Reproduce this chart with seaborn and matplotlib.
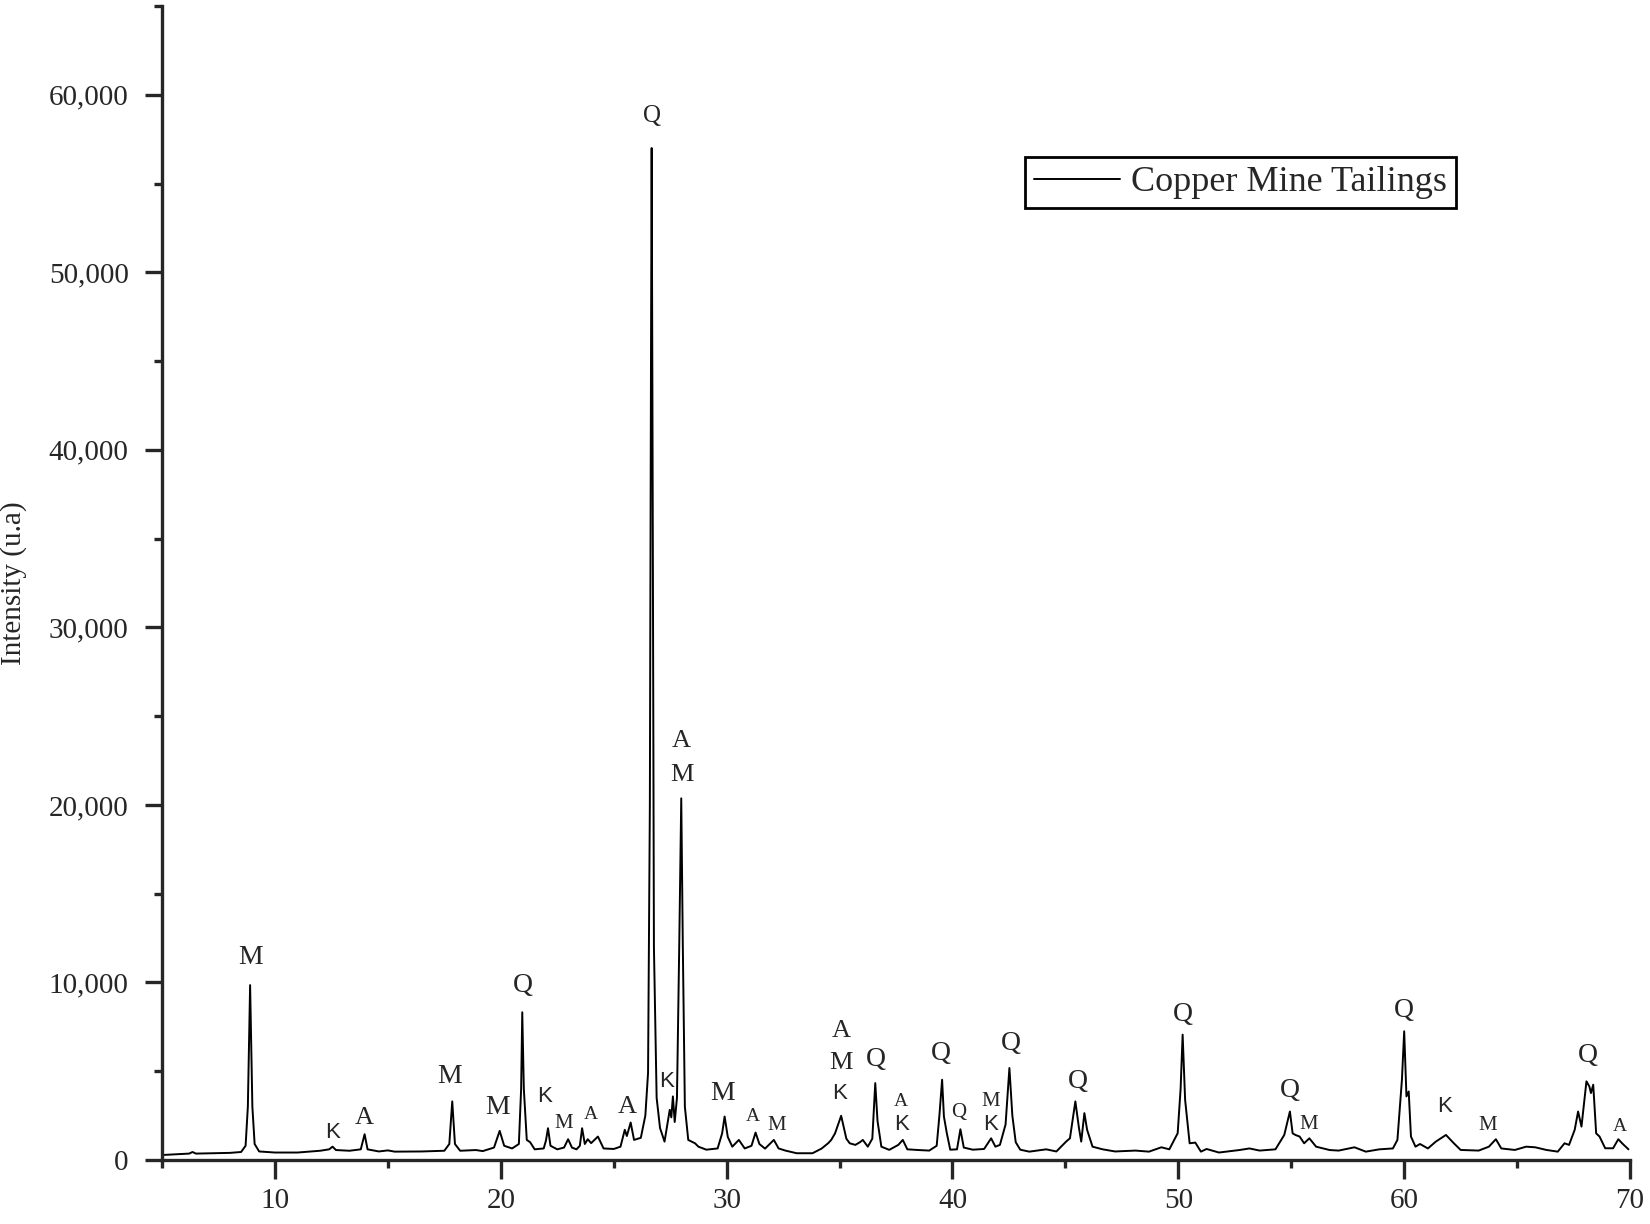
import matplotlib
matplotlib.use("Agg")
import matplotlib.pyplot as plt
from matplotlib.ticker import MultipleLocator, FuncFormatter
import seaborn as sns
import pandas as pd

# XRD pattern (2-theta in degrees, intensity in u.a)
two_theta = [
    5.0, 5.8, 6.2, 6.35, 6.5, 7.2, 8.0, 8.5, 8.7, 8.8, 8.86, 8.9, 8.94, 9.0, 9.1, 9.3,
    10.0, 11.0, 12.0, 12.4, 12.55, 12.7, 13.3, 13.8, 13.97, 14.1, 14.6, 15.0, 15.3,
    16.5, 17.5, 17.72, 17.85, 17.97, 18.2, 18.9, 19.2, 19.7, 19.95, 20.15, 20.5, 20.8,
    20.9, 20.95, 21.02, 21.15, 21.3, 21.5, 21.9, 22.0, 22.09, 22.2, 22.5, 22.8, 22.98,
    23.15, 23.35, 23.5, 23.6, 23.72, 23.85, 24.0, 24.3, 24.55, 25.0, 25.3, 25.49, 25.58,
    25.75, 25.9, 26.2, 26.4, 26.52, 26.6, 26.65, 26.68, 26.72, 26.78, 26.9, 27.05,
    27.25, 27.4, 27.48, 27.55, 27.62, 27.7, 27.8, 27.9, 27.99, 28.06, 28.15, 28.3,
    28.6, 28.75, 29.1, 29.6, 29.8, 29.91, 30.05, 30.25, 30.54, 30.8, 31.1, 31.28,
    31.45, 31.7, 32.09, 32.3, 32.6, 33.1, 33.8, 34.2, 34.5, 34.63, 34.8, 35.07, 35.3,
    35.45, 35.7, 35.9, 36.03, 36.25, 36.45, 36.58, 36.68, 36.85, 37.2, 37.6, 37.8,
    38.0, 38.5, 38.97, 39.3, 39.42, 39.54, 39.62, 39.75, 39.9, 40.2, 40.35, 40.5,
    40.9, 41.4, 41.71, 41.9, 42.1, 42.35, 42.52, 42.65, 42.8, 43.0, 43.4, 44.15, 44.6,
    45.03, 45.2, 45.44, 45.6, 45.7, 45.84, 45.96, 46.2, 46.65, 47.2, 48.1, 48.7,
    49.25, 49.6, 49.97, 50.1, 50.19, 50.3, 50.5, 50.75, 51.0, 51.25, 51.8, 52.7,
    53.15, 53.6, 54.3, 54.69, 54.94, 55.06, 55.2, 55.37, 55.57, 55.8, 56.1, 56.7,
    57.1, 57.8, 58.3, 58.9, 59.5, 59.7, 59.9, 60.0, 60.1, 60.2, 60.3, 60.5, 60.7,
    61.05, 61.4, 61.85, 62.2, 62.5, 63.3, 63.75, 64.06, 64.3, 64.9, 65.4, 65.8, 66.3,
    66.8, 67.1, 67.3, 67.55, 67.7, 67.85, 68.07, 68.2, 68.27, 68.37, 68.5, 68.65,
    68.9, 69.25, 69.48, 69.65, 69.93,
]
intensity = [
    280, 330, 360, 450, 360, 380, 400, 450, 800, 3000, 7000, 9850, 7000, 3000, 900, 480,
    420, 420, 520, 600, 750, 560, 520, 600, 1450, 600, 480, 540, 470,
    480, 520, 900, 3300, 900, 520, 560, 500, 700, 1640, 800, 650, 900,
    4000, 8320, 4000, 1130, 1000, 600, 650, 1100, 1790, 800, 600, 700, 1170,
    700, 600, 800, 1790, 900, 1170, 950, 1320, 650, 620, 750, 1700, 1350,
    2110, 1130, 1250, 2500, 4900, 20000, 45000, 57000, 40000, 12000, 3500, 1800,
    1035, 2200, 2825, 2400, 3580, 2140, 3500, 12000, 20370, 12000, 3000, 1130,
    940, 750, 580, 650, 1500, 2450, 1300, 750, 1130, 650, 800, 1545,
    900, 640, 1130, 650, 530, 380, 380, 640, 950, 1130, 1500, 2490, 1200,
    940, 850, 1000, 1130, 750, 1200, 4330, 2200, 750, 570, 850, 1130,
    600, 560, 530, 800, 2500, 4520, 2450, 1500, 580, 600, 1730, 700,
    580, 620, 1220, 750, 850, 2000, 5180, 2500, 1000, 580, 470, 600, 480,
    1035, 1220, 3300, 1800, 1035, 2640, 1700, 750, 600, 480, 530, 470,
    715, 600, 1505, 4000, 7060, 3390, 940, 980, 470, 620, 420, 560,
    650, 530, 600, 1410, 2730, 1500, 1400, 1320, 940, 1220, 750, 560,
    530, 715, 470, 600, 650, 1130, 4520, 7250, 3580, 3860, 1320, 750, 900,
    650, 1035, 1410, 940, 565, 530, 750, 1170, 650, 565, 750, 715, 565,
    470, 940, 850, 1700, 2730, 1880, 4430, 4140, 3770, 4240, 1500, 1320,
    660, 660, 1170, 940, 600,
]

# phase labels: Q quartz, M mica, A albite, K kaolinite
label_text = ["M", "K", "A", "M", "M", "Q", "K", "M", "A", "A", "Q", "K", "A", "M",
              "M", "A", "M", "A", "M", "K", "Q", "A", "K", "Q", "Q", "M", "K",
              "Q", "Q", "Q", "Q", "M", "Q", "K", "M", "Q", "A"]
label_x = [8.9, 12.54, 13.94, 17.71, 19.85, 20.97, 21.95, 22.78, 23.99, 25.62, 26.69,
           27.35, 28.0, 28.0, 29.81, 31.16, 32.23, 35.07, 35.07, 34.98, 36.6, 37.73,
           37.73, 39.49, 40.28, 41.68, 41.68, 42.57, 45.54, 50.2, 54.95, 55.78, 59.97,
           61.79, 63.7, 68.12, 69.56]
label_y = [11390, 1525, 2360, 4680, 2950, 9850, 3550, 2060, 2540, 3010, 58820,
           4435, 23580, 21670, 3730, 2475, 1940, 7290, 5445, 3730, 5680, 3310,
           2000, 5980, 2655, 3310, 2000, 6575, 4435, 8180, 3900, 2000, 8420,
           3010, 1940, 5860, 1880]
label_size = [20, 16, 19, 20, 20, 20, 16, 15, 14, 19, 18, 16, 19, 19,
              20, 14, 15, 19, 19, 16, 20, 14, 16, 20, 15, 15, 16,
              20, 20, 20, 20, 15, 20, 16, 15, 20, 14]


def main():
    sns.set_style("ticks")
    plt.rcParams["font.family"] = ["Liberation Serif", "DejaVu Serif"]
    plt.rcParams["axes.linewidth"] = 2.4

    df = pd.DataFrame({"two_theta": two_theta, "intensity": intensity})

    fig = plt.figure(figsize=(16.5, 12.24), dpi=100)
    ax = fig.add_axes([0.0982, 0.0523, 0.8897, 0.9428])

    sns.lineplot(data=df, x="two_theta", y="intensity", ax=ax, color="black",
                 linewidth=1.4, estimator=None, sort=False,
                 label="Copper Mine Tailings")

    for t, x, y, s in zip(label_text, label_x, label_y, label_size):
        fam = ["Liberation Sans"] if t == "K" else ["Liberation Serif"]
        ax.text(x, y, t, ha="center", va="center", fontsize=s, family=fam)

    ax.set_xlim(5, 70)
    ax.set_ylim(0, 65000)
    ax.xaxis.set_major_locator(MultipleLocator(10))
    ax.xaxis.set_minor_locator(MultipleLocator(5))
    ax.yaxis.set_major_locator(MultipleLocator(10000))
    ax.yaxis.set_minor_locator(MultipleLocator(5000))
    ax.yaxis.set_major_formatter(FuncFormatter(lambda v, p: f"{int(v):,}"))
    ax.tick_params(axis="both", which="major", direction="out", length=14,
                   width=2.4, labelsize=21)
    ax.tick_params(axis="y", which="major", length=12, pad=12)
    ax.tick_params(axis="x", which="major", pad=6)
    ax.tick_params(axis="both", which="minor", direction="out", length=6, width=2.4)

    sns.despine(ax=ax)
    ax.set_xlabel("")
    ax.set_ylabel("Intensity (u.a)", fontsize=21, labelpad=16)

    leg = ax.legend(loc="upper right", bbox_to_anchor=(0.8815, 0.8692),
                    borderaxespad=0, fontsize=26, frameon=True, fancybox=False,
                    handlelength=2.4, handletextpad=0.3, borderpad=0.25)
    leg.get_frame().set_edgecolor("black")
    leg.get_frame().set_linewidth(2.0)
    leg.get_frame().set_alpha(1)

    fig.savefig("out.png", dpi=100)


if __name__ == "__main__":
    main()
